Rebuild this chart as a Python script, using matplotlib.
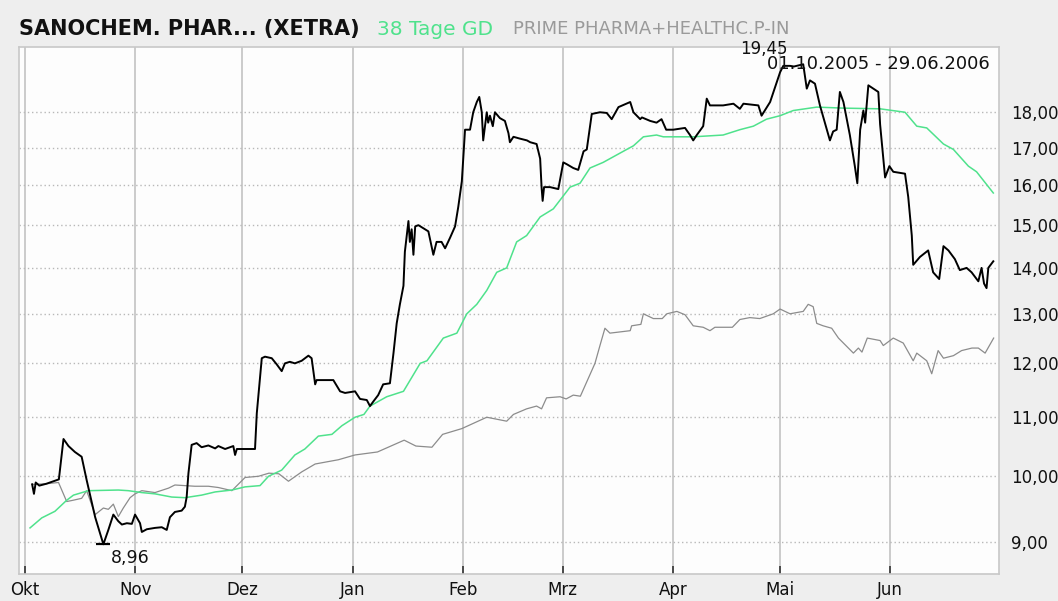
import matplotlib
matplotlib.use("Agg")
import matplotlib.pyplot as plt
import numpy as np
from matplotlib.ticker import FixedLocator, NullLocator

# x = days since 01.10.2005
MONTH_DAYS = [0, 31, 61, 92, 123, 151, 182, 212, 243]
MONTH_LABELS = ["Okt", "Nov", "Dez", "Jan", "Feb", "Mrz", "Apr", "Mai", "Jun"]
PRICE_TICKS = [9, 10, 11, 12, 13, 14, 15, 16, 17, 18]

# ── SANOCHEM (XETRA) ────────────────────────────────────────────────
stock_days = [
    2, 2.5, 3, 4, 6, 9.5, 10.8, 12.2, 14, 15.9, 17.3, 19.7, 22, 23.4, 24.8,
    26.2, 27.2, 28.6, 30, 30.9, 32.3, 32.8, 34.2, 36.5, 38.4, 39.8, 40.7,
    42.1, 44, 44.9, 45.4, 45.9, 46.8, 48.2, 49.6, 51.5, 53.4, 54.3, 56.2,
    58.5, 59, 59.5, 64.6, 65.1, 66.5, 67.4, 69.3, 70.7, 72.1, 73, 74.4,
    75.8, 77.7, 79.6, 80.5, 81.5, 81.9, 86.6, 88.5, 89.9, 92.7, 94.1, 96,
    96.9, 97.8, 99.2, 100.6, 102.5, 103.5, 104.4, 105.3, 106.3, 106.7,
    107.7, 108.1, 108.6, 109.1, 109.6, 110.5, 113.3, 114.7, 115.6, 117,
    118, 119.4, 120.8, 121.7, 122.7, 123.6, 125, 125.9, 126.9, 127.6, 128.3,
    128.7, 129.7, 130.1, 130.6, 131.4, 132, 133.4, 134.8, 135.8, 136.2,
    137.2, 139, 141, 141.9, 143.7, 144.7, 145.1, 145.4, 145.8, 147.5, 149.8,
    151.2, 152.2, 154, 155.4, 156.9, 157.8, 159.2, 161.5, 163.4, 164.8,
    166.7, 170, 170.9, 172.8, 173.3, 175.6, 177.4, 178.8, 180.1, 182.1,
    185.4, 186.8, 187.7, 188.7, 190.5, 191.5, 192.4, 196.1, 199, 200.8,
    201.8, 206, 206.9, 209.3, 212.1, 213, 214.9, 216, 218.6, 219.6, 220.5,
    221.9, 223.3, 226.1, 227, 228, 228.9, 229.9, 231.7, 233.1, 233.8, 234.6,
    235.5, 236, 236.9, 239.7, 240.2, 241.6, 242.8, 243.9, 247.2, 248.1,
    249.1, 249.5, 251.4, 253.7, 255.1, 256.8, 258, 259.4, 261.2, 262.6,
    264.5, 265.9, 267.8, 268.7, 269.4, 270.1, 270.6, 272,
]
stock_px = [
    9.87, 9.72, 9.9, 9.85, 9.88, 9.95, 10.62, 10.5, 10.4, 10.32, 9.94, 9.36,
    8.96, 9.17, 9.4, 9.3, 9.25, 9.27, 9.26, 9.4, 9.27, 9.14, 9.18, 9.2, 9.21,
    9.17, 9.36, 9.44, 9.46, 9.52, 9.67, 10.05, 10.52, 10.55, 10.48, 10.51,
    10.46, 10.5, 10.45, 10.5, 10.35, 10.45, 10.45, 11.07, 12.1, 12.13, 12.1,
    11.98, 11.85, 12.0, 12.03, 12.0, 12.05, 12.15, 12.1, 11.6, 11.68, 11.68,
    11.47, 11.44, 11.47, 11.33, 11.31, 11.2, 11.28, 11.4, 11.6, 11.62, 12.2,
    12.8, 13.2, 13.6, 14.37, 15.1, 14.6, 14.9, 14.3, 14.97, 15.0, 14.85,
    14.3, 14.6, 14.6, 14.45, 14.7, 14.97, 15.45, 16.1, 17.5, 17.5, 18.0,
    18.3, 18.45, 18.0, 17.2, 18.0, 17.7, 17.9, 17.6, 18.0, 17.83, 17.75,
    17.4, 17.15, 17.3, 17.25, 17.2, 17.15, 17.1, 16.7, 15.95, 15.6, 15.95,
    15.95, 15.9, 16.6, 16.55, 16.45, 16.4, 16.9, 16.95, 17.95, 18.0, 17.98,
    17.8, 18.15, 18.3, 18.0, 17.8, 17.85, 17.75, 17.7, 17.8, 17.5, 17.5,
    17.55, 17.35, 17.2, 17.35, 17.6, 18.4, 18.2, 18.2, 18.25, 18.1, 18.25,
    18.2, 17.9, 18.3, 19.2, 19.4, 19.4, 19.38, 19.45, 18.7, 18.95, 18.85,
    18.2, 17.2, 17.45, 17.5, 18.6, 18.3, 17.35, 16.5, 16.05, 17.5, 18.05,
    17.7, 18.8, 18.6, 17.65, 16.2, 16.5, 16.35, 16.3, 15.7, 14.75, 14.07,
    14.25, 14.4, 13.9, 13.75, 14.5, 14.4, 14.2, 13.95, 14.0, 13.9, 13.7,
    14.0, 13.65, 13.55, 14.0, 14.15,
]

# ── 38 Tage GD ──────────────────────────────────────────────────────
gd_days = [
    1.4, 4.7, 8.4, 11.7, 13.6, 17.8, 26.2, 29, 32.8, 36.5, 41.2, 44.9, 49.6,
    53.4, 58.1, 61.8, 66, 68.4, 72.1, 75.8, 78.6, 82.4, 86.2, 89, 92.7, 95.2,
    96.9, 101.6, 106.3, 111, 112.9, 117.5, 121.3, 124.1, 126.9, 129.7, 132.5,
    135.3, 138.1, 140.9, 144.7, 148.4, 153.1, 155.9, 158.7, 162.4, 169,
    170.9, 173.7, 177.4, 179.3, 187.7, 196.1, 200.8, 204.6, 208.3, 212.1,
    215.8, 222.4, 230, 240.2, 247.2, 250.5, 253.3, 258, 260.8, 265, 267.3,
    272,
]
gd_px = [
    9.2, 9.35, 9.45, 9.62, 9.7, 9.77, 9.78, 9.77, 9.74, 9.72, 9.67, 9.66,
    9.7, 9.75, 9.78, 9.83, 9.85, 10.0, 10.1, 10.35, 10.45, 10.67, 10.7,
    10.85, 11.0, 11.05, 11.2, 11.37, 11.47, 12.0, 12.05, 12.5, 12.6, 13.0,
    13.2, 13.5, 13.9, 14.0, 14.6, 14.75, 15.2, 15.4, 15.95, 16.05, 16.45,
    16.6, 16.95, 17.05, 17.3, 17.35, 17.3, 17.3, 17.35, 17.5, 17.6, 17.8,
    17.9, 18.05, 18.15, 18.12, 18.1, 18.0, 17.6, 17.55, 17.1, 16.95, 16.5,
    16.35, 15.8,
]

# ── PRIME PHARMA+HEALTHC.P-IN (rebased) ─────────────────────────────
index_days = [
    2, 6, 9.4, 11.7, 13.5, 15.9, 17.3, 19.7, 22, 23.4, 24.8, 26.2, 27.6,
    29.5, 30.9, 32.8, 36.5, 40.3, 42.1, 44.9, 47.7, 51.5, 54.3, 58.1, 61.8,
    65.6, 68.5, 71.3, 74, 77.7, 81.5, 85.2, 88, 92.7, 99, 106.5, 109.8,
    114.3, 117.3, 122.7, 129.7, 135.3, 137.2, 140.9, 143.7, 145.1, 146.5,
    150.3, 152, 154, 156, 160.1, 161.5, 162.9, 164.3, 170, 170.4, 173,
    173.7, 176.5, 179, 180.3, 183.1, 185.4, 187.7, 190.5, 192.4, 193.8,
    198.7, 200.8, 203.6, 206.4, 210.2, 212.1, 214.9, 218.6, 220, 221.4,
    222.4, 224.2, 226.6, 228.5, 232.7, 234.1, 235.1, 236.6, 240.2, 241.1,
    243.9, 246.7, 249.5, 250.5, 253.3, 254.7, 256.5, 258, 260.8, 263.1, 266,
    267.8, 269.7, 272.1,
]
index_px = [
    9.87, 9.88, 9.9, 9.6, 9.62, 9.65, 9.77, 9.4, 9.5, 9.48, 9.56, 9.37, 9.5,
    9.66, 9.72, 9.77, 9.74, 9.81, 9.86, 9.85, 9.84, 9.84, 9.82, 9.77, 9.98,
    10.0, 10.05, 10.04, 9.92, 10.07, 10.2, 10.24, 10.27, 10.35, 10.4, 10.6,
    10.5, 10.48, 10.7, 10.8, 11.0, 10.93, 11.05, 11.15, 11.2, 11.15, 11.35,
    11.37, 11.33, 11.4, 11.38, 12.0, 12.35, 12.7, 12.6, 12.65, 12.75, 12.78,
    13.0, 12.9, 12.9, 13.0, 13.05, 12.98, 12.75, 12.72, 12.65, 12.72, 12.72,
    12.88, 12.92, 12.9, 13.0, 13.1, 13.0, 13.05, 13.2, 13.15, 12.8, 12.75,
    12.7, 12.5, 12.2, 12.3, 12.22, 12.5, 12.45, 12.35, 12.5, 12.4, 12.05,
    12.2, 12.05, 11.8, 12.25, 12.1, 12.15, 12.25, 12.3, 12.3, 12.2, 12.5,
]

BG = "#eeeeee"
GREEN = "#4fe28c"
GRAY = "#8c8c8c"
FONT = "DejaVu Sans"


def main():
    fig = plt.figure(figsize=(10.58, 6.01), dpi=100, facecolor=BG)
    ax = fig.add_axes([19 / 1058, 1 - 574 / 601, 980 / 1058, 527 / 601])
    ax.set_facecolor("#fdfdfd")

    ax.set_yscale("log")
    ax.set_ylim(8.54, 20.0)
    ax.set_xlim(-1.7, 273.6)

    # grid: solid month lines, dotted price lines
    for d in MONTH_DAYS:
        ax.axvline(d, color="#cbcbcb", lw=1.4, zorder=1)
    for p in PRICE_TICKS:
        ax.axhline(p, color="#b8b8b8", lw=1.0, ls=(0, (1, 2)), zorder=1)

    ax.plot(index_days, index_px, color=GRAY, lw=0.9, zorder=2)
    ax.plot(gd_days, gd_px, color=GREEN, lw=1.1, zorder=3)
    ax.plot(stock_days, stock_px, color="black", lw=1.4, zorder=4)

    # high / low labels
    i_max = int(np.argmax(stock_px))
    i_min = int(np.argmin(stock_px))
    ax.annotate(f"{stock_px[i_max]:.2f}".replace(".", ","),
                (stock_days[i_max], stock_px[i_max]),
                xytext=(-39, 15), textcoords="offset pixels",
                ha="center", va="center", fontsize=12, family=FONT,
                color="#111111", zorder=6)
    ax.plot(stock_days[i_min], stock_px[i_min], marker="_", ms=10,
            mew=1.6, color="black", zorder=5)
    ax.annotate(f"{stock_px[i_min]:.2f}".replace(".", ","),
                (stock_days[i_min], stock_px[i_min]),
                xytext=(27, -14), textcoords="offset pixels",
                ha="center", va="center", fontsize=12.5, family=FONT,
                color="#111111", zorder=6)
    ax.text(0.991, 0.968, "01.10.2005 - 29.06.2006", transform=ax.transAxes,
            ha="right", va="center", fontsize=13, family=FONT,
            color="#111111", zorder=6)

    # axes
    ax.xaxis.set_major_locator(FixedLocator(MONTH_DAYS))
    ax.set_xticklabels(MONTH_LABELS, fontsize=12, family=FONT, color="#111111")
    ax.tick_params(axis="x", direction="in", length=6, width=1.2,
                   color="#333333", pad=5)

    ax.yaxis.tick_right()
    ax.yaxis.set_major_locator(FixedLocator(PRICE_TICKS))
    ax.yaxis.set_minor_locator(NullLocator())
    ax.set_yticklabels([f"{p:.2f}".replace(".", ",") for p in PRICE_TICKS],
                       fontsize=12, family=FONT, color="#111111")
    ax.tick_params(axis="y", length=0, pad=9)

    for side in ax.spines.values():
        side.set_color("#c8c8c8")
        side.set_linewidth(1.2)

    # title line with legend entries
    fig.text(19 / 1058, 0.951, "SANOCHEM. PHAR... (XETRA)", fontsize=15,
             fontweight="bold", family=FONT, color="#111111", va="center")
    fig.text(377 / 1058, 0.951, "38 Tage GD", fontsize=14.5, family=FONT,
             color=GREEN, va="center")
    fig.text(513 / 1058, 0.951, "PRIME PHARMA+HEALTHC.P-IN", fontsize=13,
             family=FONT, color="#9a9a9a", va="center")

    fig.savefig("out.png", dpi=100, facecolor=BG)
    plt.close(fig)


if __name__ == "__main__":
    main()
